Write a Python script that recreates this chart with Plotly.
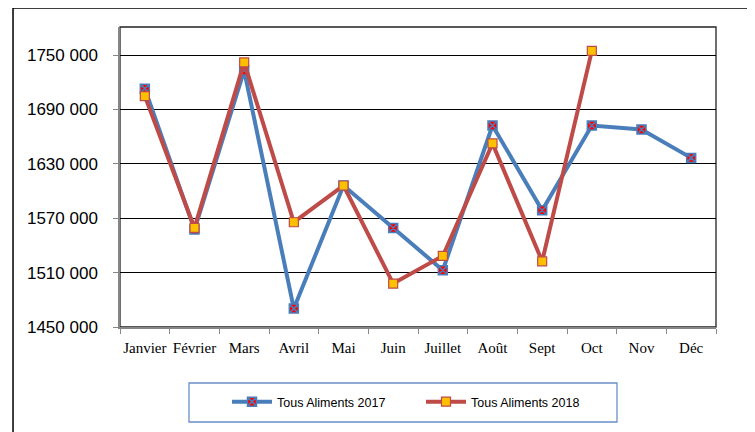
import plotly.graph_objects as go

months = ["Janvier", "Février", "Mars", "Avril", "Mai", "Juin", "Juillet",
          "Août", "Sept", "Oct", "Nov", "Déc"]
values_2017 = [1713000, 1557500, 1733000, 1470300, 1606100, 1559300, 1512600,
               1672300, 1578800, 1672300, 1667900, 1636600]
values_2018 = [1704700, 1559300, 1742000, 1565600, 1606100, 1497900, 1528400,
               1652500, 1522500, 1754700, None, None]
y_tickvals = [1450000, 1510000, 1570000, 1630000, 1690000, 1750000]
y_ticktext = ["1450 000", "1510 000", "1570 000", "1630 000", "1690 000", "1750 000"]

BLUE = "#4A7EBB"
RED = "#BE4B48"

fig = go.Figure()
fig.add_trace(go.Scatter(
    x=months, y=values_2017, name="Tous Aliments 2017", mode="lines+markers",
    line=dict(color=BLUE, width=4),
    marker=dict(symbol="square-x", size=9, color="#FF0000",
                line=dict(color=BLUE, width=1.5)),
))
fig.add_trace(go.Scatter(
    x=months, y=values_2018, name="Tous Aliments 2018", mode="lines+markers",
    line=dict(color=RED, width=4),
    marker=dict(symbol="square", size=9, color="#FFC000",
                line=dict(color=RED, width=1.2)),
))

# plot-area frame and outer chart frame
fig.add_shape(type="rect", xref="paper", yref="paper", x0=0, x1=1, y0=0, y1=1,
              line=dict(color="#222222", width=1.3), layer="below")
fig.add_shape(type="rect", xref="paper", yref="paper",
              x0=-0.1795, x1=1.0604, y0=-0.40, y1=1.063,
              line=dict(color="#000000", width=1.5), layer="below")
# legend box
fig.add_shape(type="rect", xref="paper", yref="paper",
              x0=(189 - 120) / 596, x1=(617 - 120) / 596,
              y0=(327 - 422) / 300, y1=(327 - 383) / 300,
              line=dict(color="#6A8FC6", width=1.3), layer="below")

fig.update_layout(
    width=755, height=432,
    margin=dict(l=112, r=47, t=19, b=113, autoexpand=False),
    paper_bgcolor="white", plot_bgcolor="white",
    showlegend=True,
    legend=dict(orientation="h", x=(227 - 120) / 596, y=(327 - 402) / 300,
                xanchor="left", yanchor="middle",
                font=dict(family="Liberation Sans", size=12.5, color="#000"),
                bgcolor="rgba(0,0,0,0)", entrywidth=139, entrywidthmode="pixels",
                itemwidth=40),
    xaxis=dict(
        showgrid=False, showline=True, linecolor="#868686", linewidth=1.5,
        ticks="outside", ticklen=5, tickcolor="#868686", tickson="boundaries",
        tickfont=dict(family="Liberation Serif", size=15, color="#000"),
        ticklabelstandoff=6, range=[-0.5, 11.5], tickangle=0, automargin=False,
    ),
    yaxis=dict(
        range=[1450000, 1781000], tickvals=y_tickvals, ticktext=y_ticktext,
        showgrid=True, gridcolor="#000000", gridwidth=1.2,
        showline=True, linecolor="#868686", linewidth=1.5,
        ticks="outside", ticklen=5, tickcolor="#868686",
        tickfont=dict(family="Liberation Sans", size=17, color="#000"),
        ticklabelstandoff=12, zeroline=False, automargin=False,
    ),
)

fig.write_html("out.html")
